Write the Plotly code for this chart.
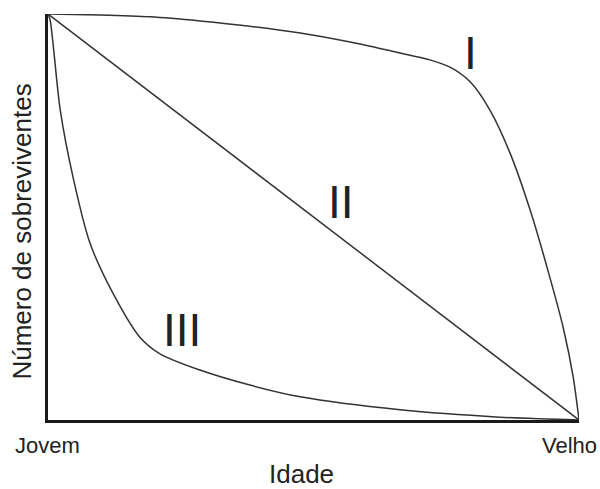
import plotly.graph_objects as go

# Survivorship curves (age 0-100 = Jovem..Velho, survivors 0-100 %)
age_I = [0, 9.8, 19.2, 28.6, 38.0, 47.5, 56.9, 66.3, 71.9, 75.7, 79.5, 83.2, 87.0, 90.8, 94.5, 97.0, 98.9, 100]
surv_I = [100, 99.75, 99.3, 98.3, 97.0, 95.3, 93.1, 90.4, 88.7, 86.9, 83.3, 76.4, 65.8, 51.7, 35.2, 22.9, 10.6, 0]

age_II = [0, 100]
surv_II = [100, 0]

age_III = [0, 0.4, 2.3, 4.7, 7.9, 12.2, 17.3, 21.1, 28.6, 38.0, 47.5, 66.3, 85.1, 100]
surv_III = [100, 98.5, 76.4, 59.9, 43.6, 31.3, 20.4, 16.3, 12.3, 8.6, 5.7, 2.5, 0.7, 0]

curve_labels = ["I", "II", "III"]
label_x = [79.6, 55.2, 25.2]
label_y = [90.5, 53.7, 22.2]

age_tick_text = ["Jovem", "Velho"]
age_tick_x = [-0.001, 0.983]   # paper fraction

x_title = "Idade"
y_title = "Número de sobreviventes"

line_color = "#333333"
text_color = "#222222"
font_family = "Liberation Sans, Arial, sans-serif"

fig = go.Figure()
for xs, ys in [(age_I, surv_I), (age_II, surv_II), (age_III, surv_III)]:
    fig.add_trace(go.Scatter(
        x=xs, y=ys, mode="lines",
        line=dict(color=line_color, width=1.5, shape="spline", smoothing=0.8),
        hoverinfo="skip", showlegend=False, cliponaxis=False,
    ))

annotations = []
for t, x, y in zip(curve_labels, label_x, label_y):
    annotations.append(dict(
        text=t, x=x, y=y, xref="x", yref="y", showarrow=False,
        font=dict(size=46, color=text_color, family=font_family),
        xanchor="center", yanchor="middle",
    ))
for t, x in zip(age_tick_text, age_tick_x):
    annotations.append(dict(
        text=t, x=x, y=-0.064, xref="paper", yref="paper", showarrow=False,
        font=dict(size=22, color=text_color, family=font_family),
        xanchor="center", yanchor="middle",
    ))
annotations.append(dict(
    text=x_title, x=0.4774, y=-0.133, xref="paper", yref="paper",
    showarrow=False, font=dict(size=26, color=text_color, family=font_family),
    xanchor="center", yanchor="middle", borderpad=0,
))
annotations.append(dict(
    text=y_title, x=-0.049, y=0.464, xref="paper", yref="paper",
    showarrow=False, textangle=-90,
    font=dict(size=26, color=text_color, family=font_family),
    xanchor="center", yanchor="middle",
))

fig.update_layout(
    width=600, height=489,
    margin=dict(l=48, r=21, t=14, b=69),
    paper_bgcolor="white", plot_bgcolor="white",
    annotations=annotations,
    xaxis=dict(range=[0, 100], showgrid=False, zeroline=False, showticklabels=False,
               ticks="", showline=True, linecolor="#1a1a1a", linewidth=3, mirror=False),
    yaxis=dict(range=[0, 100], showgrid=False, zeroline=False, showticklabels=False,
               ticks="", showline=True, linecolor="#1a1a1a", linewidth=3, mirror=False),
)

fig.write_html(
    "out.html",
    config={"displayModeBar": False},
    post_script="document.body.style.margin='0';document.body.style.overflow='hidden';",
)
